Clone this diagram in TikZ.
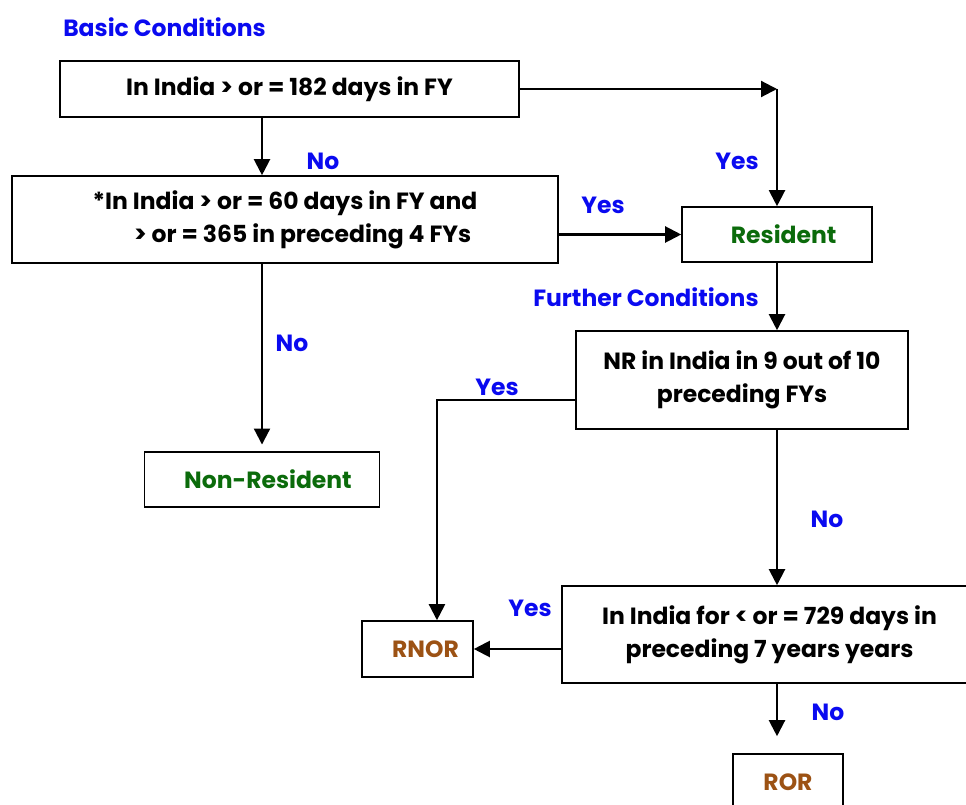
\documentclass[tikz,border=0pt]{standalone}
\usepackage{fontspec}
\setmainfont{Poppins}
\usepackage{tikz}
\usetikzlibrary{arrows.meta,positioning}
\definecolor{cBlue}{HTML}{0A0AF0}
\definecolor{cGreen}{HTML}{0B6B0B}
\definecolor{cBrown}{HTML}{9C5214}

\begin{document}
\begin{tikzpicture}[x=0.75pt, y=-0.75pt,
    font=\bfseries\fontsize{17.6}{24.75}\selectfont,
    >={Triangle[length=12pt,width=12pt]},
    condbox/.style={draw, line width=1.2pt, align=center, inner sep=0pt},
    lbl/.style={text=cBlue, inner sep=0pt},
    flow/.style={->, line width=1.6pt}]
    \useasboundingbox (0,0) rectangle (966,805);
    % basic conditions
    \node[lbl, anchor=west] (basic) at (63,27) {Basic Conditions};
    \node[condbox, minimum width=344pt, minimum height=42pt]
      (stay) at (289.5,89) {In India > or = 182 days in FY};
    \node[condbox, minimum width=409.5pt, minimum height=65.25pt, align=left]
      (sixty) at (285,219.5) {*In India > or = 60 days in FY and\\ \hspace*{31pt}> or = 365 in preceding 4 FYs};
    \node[condbox, minimum width=142.5pt, minimum height=41.25pt, text=cGreen]
      (res) at (777,234.5) {\hspace*{10pt}Resident};
    \node[condbox, minimum width=176.25pt, minimum height=41.25pt, text=cGreen]
      (nonres) at (262,479.5) {\hspace*{9pt}Non-Resident};
    % further conditions
    \node[lbl, anchor=west] (further) at (533,297) {Further Conditions};
    \node[condbox, minimum width=249pt, minimum height=73.5pt]
      (nine) at (742,380) {NR in India in 9 out of 10\\ preceding FYs};
    \node[condbox, minimum width=311.25pt, minimum height=72.75pt]
      (seven) at (769.5,634.5) {In India for < or = 729 days in\\ preceding 7 years years};
    \node[condbox, minimum width=83.25pt, minimum height=42pt, text=cBrown]
      (rnor) at (417.5,649) {\hspace*{12pt}RNOR};
    \node[condbox, minimum width=82.5pt, minimum height=42pt, text=cBrown]
      (ror) at (788,782) {ROR};

    \draw[flow] (stay.south -| nonres) -- (sixty.north -| nonres);
    \draw[flow] (stay.east) -- (stay.east -| res.north);
    \draw[flow] (stay.east -| res.north) -- (res.north);
    \draw[flow] (sixty.east |- res.west) -- (res.west);
    \draw[flow, shorten >=5pt] (sixty.south -| nonres) -- (nonres.north);
    \draw[flow] (res.south) -- (res.south |- nine.north);
    \draw[flow] ([yshift=-15pt]nine.west) -| ([xshift=14.6pt]rnor.north);
    \draw[flow] (res.south |- nine.south) -- (res.south |- seven.north);
    \draw[flow] (seven.west |- rnor.east) -- (rnor.east);
    \draw[flow, shorten >=12.75pt] (res.south |- seven.south) -- (res.south |- ror.north);

    \node[lbl] (no1) at (323,161) {No};
    \node[lbl] (yes1) at (737,161) {Yes};
    \node[lbl] (yes2) at (603,205) {Yes};
    \node[lbl] (no2) at (292,343) {No};
    \node[lbl] (yes3) at (497,387) {Yes};
    \node[lbl] (no3) at (827,519) {No};
    \node[lbl] (yes4) at (530,608) {Yes};
    \node[lbl] (no4) at (828,712) {No};
  \end{tikzpicture}
\end{document}
